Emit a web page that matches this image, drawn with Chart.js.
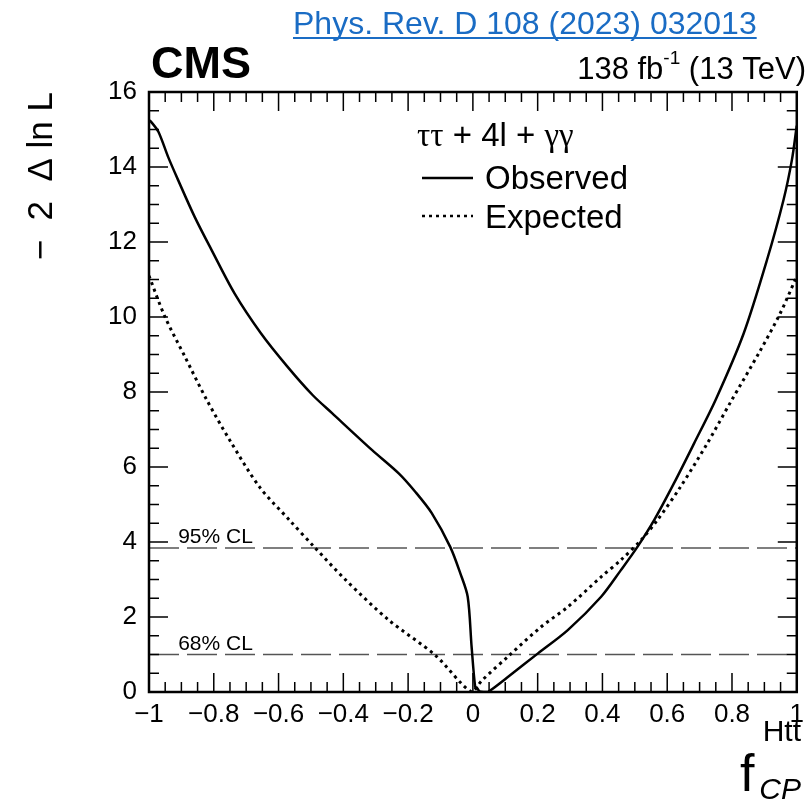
<!DOCTYPE html>
<html>
<head>
<meta charset="utf-8">
<script src="https://cdn.jsdelivr.net/npm/chart.js@4.4.1/dist/chart.umd.min.js"></script>
<style>
  html, body { margin: 0; padding: 0; background: #fff; }
  #wrap { width: 811px; height: 803px; position: relative; }
</style>
</head>
<body>
<div id="wrap"><canvas id="chart_nll_fcp"></canvas></div>
<script>
// observed scan
var obsX = [-1, -0.994, -0.971, -0.941, -0.91, -0.859, -0.807, -0.736, -0.654, -0.572, -0.495, -0.434, -0.311, -0.229, -0.178, -0.127, -0.07, -0.039, -0.016, -0.004, 0.007, 0.012, 0.02, 0.035, 0.048, 0.105, 0.201, 0.293, 0.396, 0.457, 0.508, 0.56, 0.621, 0.683, 0.75, 0.836, 0.908, 0.959, 0.985, 1];
var obsY = [15.25, 15.21, 14.94, 14.27, 13.65, 12.67, 11.79, 10.63, 9.56, 8.67, 7.92, 7.43, 6.45, 5.83, 5.34, 4.77, 3.87, 3.17, 2.54, 1.21, 0.14, 0.12, 0.02, 0.0, 0.01, 0.38, 1.03, 1.65, 2.54, 3.25, 3.87, 4.59, 5.57, 6.63, 7.8, 9.56, 11.52, 13.12, 14.19, 15.1];
// expected scan
var expX = [-1, -0.951, -0.889, -0.823, -0.751, -0.659, -0.567, -0.49, -0.393, -0.26, -0.116, -0.004, 0.027, 0.114, 0.211, 0.293, 0.396, 0.457, 0.519, 0.57, 0.641, 0.723, 0.795, 0.887, 0.949, 0.995, 1];
var expY = [11.1, 10.01, 8.94, 7.81, 6.72, 5.47, 4.59, 3.87, 2.99, 1.92, 0.98, 0.0, 0.3, 0.99, 1.74, 2.27, 3.07, 3.52, 4.05, 4.59, 5.47, 6.62, 7.72, 9.1, 10.1, 10.99, 11.1];
// confidence levels
var clValues = [3.84, 1.0];
var clLabels = ['95% CL', '68% CL'];

var SANS = '"Liberation Sans", Arial, Helvetica, sans-serif';
var SERIF = '"Liberation Serif", "Times New Roman", serif';

function pts(xs, ys) {
    return xs.map(function (x, i) { return { x: x, y: ys[i] }; });
}

var clSets = clValues.map(function (v, i) {
    return {
        label: clLabels[i],
        data: [{ x: -1, y: v }, { x: 1, y: v }],
        borderColor: '#555',
        borderWidth: 1.6,
        borderDash: [30, 8],
        pointRadius: 0,
        showLine: true
    };
});

var rootLook = {
    id: 'rootLook',
    beforeDraw: function (chart) {
        var ctx = chart.ctx;
        ctx.save();
        ctx.fillStyle = 'white';
        ctx.fillRect(0, 0, chart.width, chart.height);
        ctx.restore();
    },
    afterDraw: function (chart) {
        var ctx = chart.ctx;
        var a = chart.chartArea;
        var xs = chart.scales.x, ys = chart.scales.y;
        ctx.save();
        ctx.strokeStyle = '#000';
        ctx.lineWidth = 1.5;
        // inner ticks, x axis
        for (var i = 0; i <= 40; i++) {
            var v = -1 + i * 0.05;
            var px = xs.getPixelForValue(v);
            var len = (i % 4 === 0) ? 19 : 10;
            ctx.beginPath();
            ctx.moveTo(px, a.bottom); ctx.lineTo(px, a.bottom - len);
            ctx.moveTo(px, a.top); ctx.lineTo(px, a.top + len);
            ctx.stroke();
        }
        // inner ticks, y axis
        for (var j = 0; j <= 32; j++) {
            var py = ys.getPixelForValue(j * 0.5);
            var l2 = (j % 4 === 0) ? 19 : 10;
            ctx.beginPath();
            ctx.moveTo(a.left, py); ctx.lineTo(a.left + l2, py);
            ctx.moveTo(a.right, py); ctx.lineTo(a.right - l2, py);
            ctx.stroke();
        }
        // frame
        ctx.lineWidth = 2.5;
        ctx.strokeRect(a.left, a.top, a.right - a.left, a.bottom - a.top);

        // CL labels
        ctx.fillStyle = '#000';
        ctx.font = '21px ' + SANS;
        ctx.textBaseline = 'alphabetic';
        ctx.textAlign = 'left';
        clValues.forEach(function (v, k) {
            ctx.fillText(clLabels[k], xs.getPixelForValue(-0.91), ys.getPixelForValue(v) - 5);
        });

        // legend
        var hx = 417, hy = 146;
        var parts = [['\u03c4\u03c4', SERIF], [' + 4l + ', SANS], ['\u03b3\u03b3', SERIF]];
        parts.forEach(function (p) {
            ctx.font = '33px ' + p[1];
            ctx.fillText(p[0], hx, hy);
            hx += ctx.measureText(p[0]).width;
        });
        ctx.font = '33px ' + SANS;
        ctx.fillText('Observed', 485, 189);
        ctx.fillText('Expected', 485, 228);
        ctx.lineWidth = 2.5;
        ctx.beginPath(); ctx.moveTo(422, 178); ctx.lineTo(473, 178); ctx.stroke();
        ctx.setLineDash([3, 4]);
        ctx.lineWidth = 2.5;
        ctx.beginPath(); ctx.moveTo(422, 216); ctx.lineTo(473, 216); ctx.stroke();
        ctx.setLineDash([]);

        // CMS label and lumi
        ctx.font = 'bold 45px ' + SANS;
        ctx.fillText('CMS', 151, 78);
        ctx.textAlign = 'right';
        ctx.font = '31px ' + SANS;
        var t2 = ' (13 TeV)';
        ctx.fillText(t2, 806, 79);
        var w2 = ctx.measureText(t2).width;
        ctx.font = '19px ' + SANS;
        ctx.fillText('-1', 806 - w2, 64);
        var w3 = ctx.measureText('-1').width;
        ctx.font = '31px ' + SANS;
        ctx.fillText('138 fb', 806 - w2 - w3, 79);

        // reference link
        ctx.textAlign = 'left';
        ctx.fillStyle = '#1a6cc4';
        ctx.font = '32px ' + SANS;
        var ref = 'Phys. Rev. D 108 (2023) 032013';
        ctx.fillText(ref, 293, 34);
        var rw = ctx.measureText(ref).width;
        ctx.fillRect(293, 37, rw, 2);

        // x title f_CP^Htt
        ctx.fillStyle = '#000';
        ctx.font = '52px ' + SANS;
        ctx.fillText('f', 740, 791);
        ctx.textAlign = 'right';
        ctx.font = '30px ' + SANS;
        ctx.fillText('Htt', 801, 741);
        ctx.font = 'italic 30px ' + SANS;
        ctx.fillText('CP', 801, 799);
        ctx.restore();
    }
};

var chart_nll_fcp = new Chart(document.getElementById('chart_nll_fcp'), {
    type: 'scatter',
    data: {
        datasets: [
            {
                label: 'Observed',
                data: pts(obsX, obsY),
                showLine: true,
                borderColor: '#000',
                borderWidth: 2.5,
                pointRadius: 0,
                tension: 0.3
            },
            {
                label: 'Expected',
                data: pts(expX, expY),
                showLine: true,
                borderColor: '#000',
                borderWidth: 3,
                borderDash: [3, 4],
                pointRadius: 0,
                tension: 0.3
            }
        ].concat(clSets)
    },
    options: {
        animation: false,
        responsive: true,
        maintainAspectRatio: false,
        layout: { padding: { left: 0, right: 11, top: 92, bottom: 0 } },
        plugins: {
            legend: { display: false },
            tooltip: { enabled: false }
        },
        scales: {
            x: {
                type: 'linear',
                min: -1,
                max: 1,
                grid: { display: false, drawTicks: false },
                border: { display: false },
                ticks: {
                    stepSize: 0.2,
                    padding: 7,
                    color: '#000',
                    font: { family: SANS, size: 26 },
                    maxRotation: 0,
                    autoSkip: false,
                    callback: function (v) {
                        return String(Math.round(v * 10) / 10).replace('-', '\u2212');
                    }
                },
                afterFit: function (s) { s.height = 111; }
            },
            y: {
                type: 'linear',
                min: 0,
                max: 16,
                grid: { display: false, drawTicks: false },
                border: { display: false },
                title: {
                    display: true,
                    text: '\u2212  2  \u0394 ln L',
                    align: 'end',
                    color: '#000',
                    font: { family: SANS, size: 35 },
                    padding: { top: 21, bottom: 0 }
                },
                ticks: {
                    stepSize: 2,
                    padding: 12,
                    color: '#000',
                    font: { family: SANS, size: 26 }
                },
                afterFit: function (s) { s.width = 149; }
            }
        }
    },
    plugins: [rootLook]
});
</script>
</body>
</html>
